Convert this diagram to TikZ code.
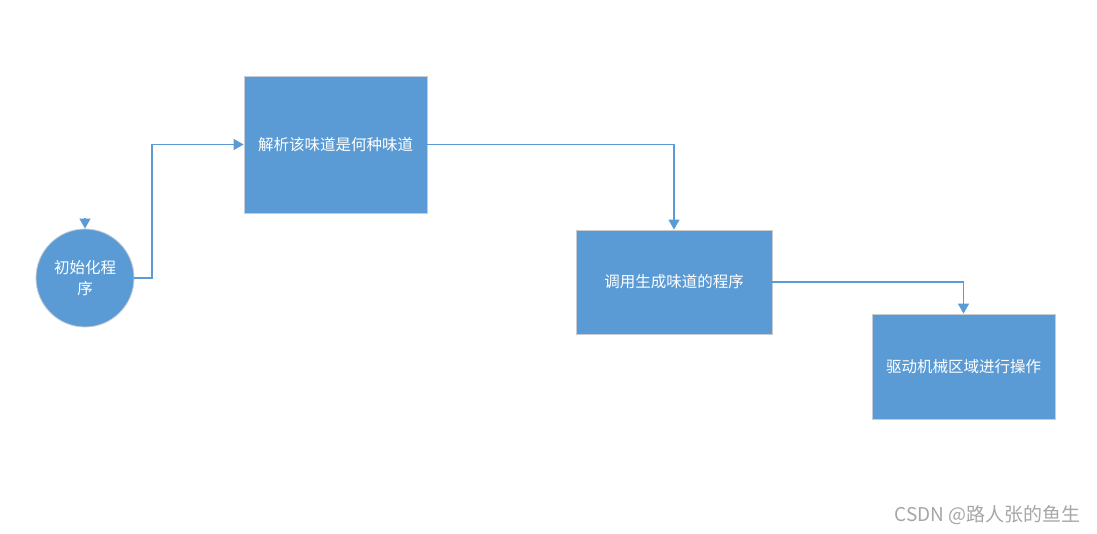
\documentclass[tikz,border=0pt]{standalone}
\usepackage{fontspec}
\setmainfont{Noto Sans CJK SC}
\usetikzlibrary{arrows.meta}
\definecolor{boxblue}{HTML}{5B9BD5}
\definecolor{edgeblue}{HTML}{5B9BD5}
\definecolor{bordergray}{HTML}{C8CCD2}
\begin{document}
\begin{tikzpicture}[x=1pt,y=-1pt,
  procbox/.style={draw=bordergray,line width=0.8pt,fill=boxblue,text=white,font=\fontsize{15.5}{21}\selectfont,inner sep=0pt},
  conn/.style={draw=edgeblue,line width=1.3pt,-{Triangle[length=10pt,width=11pt]}}]
\useasboundingbox (0,0) rectangle (1097,534);
\node[procbox,circle,minimum size=98pt,align=center] (init) at (85,278) {初始化程\\序};
\node[procbox,minimum width=183pt,minimum height=137pt] (parse) at (335.5,144.5) {解析该味道是何种味道};
\node[procbox,minimum width=196pt,minimum height=104pt] (gen) at (674,282) {调用生成味道的程序};
\node[procbox,minimum width=183pt,minimum height=105pt] (drive) at (963.5,366.5) {驱动机械区域进行操作};
\coordinate (top) at (85,218);
\draw[conn] (top) -- (init.north);
\draw[conn] (init.east) -- (152,278) |- (parse.west);
\draw[conn] (parse.east) -| (gen.north);
\draw[conn] (gen.east) -| (drive.north);
\node[text=gray!70,font=\fontsize{19}{22}\selectfont,anchor=east,inner sep=0pt] (wm) at (1081,515) {CSDN @路人张的鱼生};
\end{tikzpicture}
\end{document}
